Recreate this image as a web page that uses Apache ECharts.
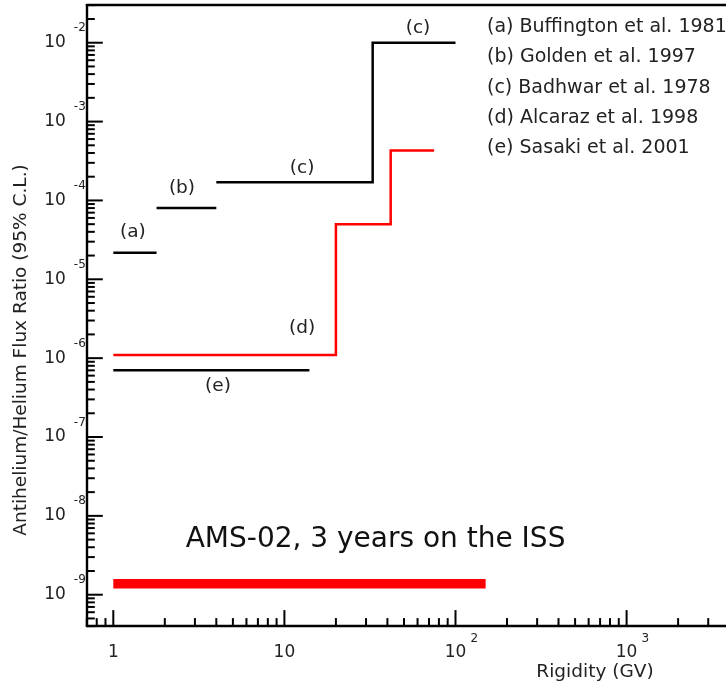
<!DOCTYPE html>
<html>
<head>
<meta charset="utf-8">
<script src="https://cdn.jsdelivr.net/npm/echarts@6/dist/echarts.min.js"></script>
<style>
  html, body { margin: 0; padding: 0; background: #fff; }
  #chart { width: 726px; height: 686px; }
</style>
</head>
<body>
<div id="chart"></div>
<script>
// Axis ranges: rigidity (GV) and antihelium/helium flux ratio
const xRange = [0.7, 10000];
const yRange = [4e-10, 3e-2];

// 95% C.L. upper limits, as [rigidity, ratio] corners of step lines
const buffington1981 = [[1, 2.17e-5], [1.79, 2.17e-5]];
const golden1997 = [[1.79, 8.0e-5], [4, 8.0e-5]];
const badhwar1978 = [[4, 1.7e-4], [32.8, 1.7e-4], [32.8, 1e-2], [100, 1e-2]];
const alcaraz1998 = [[1, 1.1e-6], [20, 1.1e-6], [20, 5e-5], [41.8, 5e-5], [41.8, 4.3e-4], [75, 4.3e-4]];
const sasaki2001 = [[1, 7.0e-7], [14, 7.0e-7]];
const ams02 = [[1, 1.38e-9], [150, 1.38e-9]];

// Letter tags next to the limits, anchored in data units
const tagText = ['(a)', '(b)', '(c)', '(c)', '(d)', '(e)'];
const tagAt = [[1.30, 3.98e-5], [2.52, 1.44e-4], [12.7, 2.58e-4], [60.4, 1.54e-2], [12.7, 2.41e-6], [4.09, 4.43e-7]];
const amsText = 'AMS-02, 3 years on the ISS';
const amsTextAt = [34.1, 4.94e-9];

// Reference list
const references = [
  '(a) Buffington et al. 1981',
  '(b) Golden et al. 1997',
  '(c) Badhwar et al. 1978',
  '(d) Alcaraz et al. 1998',
  '(e) Sasaki et al. 2001'
];

// Decade tick labels
const xMajor = [1, 10, 100, 1000];
const xMajorBase = ['1', '10', '10', '10'];
const xMajorExp = ['', '', '2', '3'];
const yMajorExp = [-2, -3, -4, -5, -6, -7, -8, -9];

const FONT = 'DejaVu Sans';

// Log ticks: 2..9 times each power of ten inside a range
function minorTicks(lo, hi, eFrom, eTo) {
  const out = [];
  for (let e = eFrom; e <= eTo; e++) {
    for (let m = 2; m <= 9; m++) {
      const v = m * Math.pow(10, e);
      if (v >= lo * 0.999 && v <= hi * 1.001) out.push(v);
    }
  }
  return out;
}
const xMinor = minorTicks(xRange[0], xRange[1], -1, 3);
const yMajor = yMajorExp.map(e => Math.pow(10, e));
const yMinor = minorTicks(yRange[0], yRange[1], -10, -2);

function tickSeries(data, horizontal, len) {
  return {
    type: 'custom', coordinateSystem: 'cartesian2d', silent: true, clip: false, z: 5,
    data: data,
    renderItem: function (params, api) {
      const p = api.coord([api.value(0), api.value(1)]);
      const shape = horizontal
        ? { x1: p[0], y1: p[1], x2: p[0] + len, y2: p[1] }
        : { x1: p[0], y1: p[1], x2: p[0], y2: p[1] - len };
      return { type: 'line', shape: shape, style: { stroke: '#000', lineWidth: 2 } };
    }
  };
}

function stepLine(data, color, width) {
  return {
    type: 'line', data: data, symbol: 'none', silent: true, z: 3,
    lineStyle: { color: color, width: width, cap: 'butt', join: 'miter' }
  };
}

const chart = echarts.init(document.getElementById('chart'), null, { renderer: 'canvas' });

chart.setOption({
  animation: false,
  backgroundColor: '#fff',
  // the plot runs past the right edge of the canvas
  grid: { left: 86.8, top: 5.1, width: 710.9, height: 621, containLabel: false, outerBoundsMode: 'none' },
  xAxis: [{
    type: 'log', logBase: 10, min: xRange[0], max: xRange[1],
    axisLine: { show: true, lineStyle: { color: '#000', width: 2.4 } },
    axisTick: { show: false }, axisLabel: { show: false }, splitLine: { show: false }, minorTick: { show: false }
  }, {
    type: 'log', logBase: 10, min: xRange[0], max: xRange[1], position: 'top',
    axisLine: { show: true, onZero: false, lineStyle: { color: '#000', width: 2.4 } },
    axisTick: { show: false }, axisLabel: { show: false }, splitLine: { show: false }
  }],
  yAxis: {
    type: 'log', logBase: 10, min: yRange[0], max: yRange[1],
    axisLine: { show: true, lineStyle: { color: '#000', width: 2.4 } },
    axisTick: { show: false }, axisLabel: { show: false }, splitLine: { show: false }, minorTick: { show: false }
  },
  series: [
    stepLine(buffington1981, '#000', 2.5),
    stepLine(golden1997, '#000', 2.5),
    stepLine(badhwar1978, '#000', 2.5),
    stepLine(sasaki2001, '#000', 2.5),
    stepLine(alcaraz1998, '#ff0000', 2.5),
    stepLine(ams02, '#ff0000', 9.5),
    // axis ticks, drawn inward
    tickSeries(xMajor.map(v => [v, yRange[0]]), false, 16),
    tickSeries(xMinor.map(v => [v, yRange[0]]), false, 8),
    tickSeries(yMajor.map(v => [xRange[0], v]), true, 16),
    tickSeries(yMinor.map(v => [xRange[0], v]), true, 8),
    // x tick labels
    {
      type: 'custom', coordinateSystem: 'cartesian2d', silent: true, clip: false,
      data: xMajor.map((v, i) => [v, yRange[0], i]),
      renderItem: function (params, api) {
        const p = api.coord([api.value(0), api.value(1)]);
        const i = api.value(2);
        const kids = [{
          type: 'text', x: p[0], y: p[1] + 26,
          style: { text: xMajorBase[i], fill: '#222', fontSize: 17, fontFamily: FONT, align: 'center', verticalAlign: 'middle' }
        }];
        if (xMajorExp[i]) {
          kids.push({
            type: 'text', x: p[0] + 15, y: p[1] + 13,
            style: { text: xMajorExp[i], fill: '#222', fontSize: 12, fontFamily: FONT, align: 'left', verticalAlign: 'middle' }
          });
        }
        return { type: 'group', children: kids };
      }
    },
    // y tick labels, 10 with a raised exponent
    {
      type: 'custom', coordinateSystem: 'cartesian2d', silent: true, clip: false,
      data: yMajor.map((v, i) => [xRange[0], v, i]),
      renderItem: function (params, api) {
        const p = api.coord([api.value(0), api.value(1)]);
        const i = api.value(2);
        return {
          type: 'group', children: [{
            type: 'text', x: p[0] - 21, y: p[1],
            style: { text: '10', fill: '#222', fontSize: 17, fontFamily: FONT, align: 'right', verticalAlign: 'middle' }
          }, {
            type: 'text', x: p[0] - 1, y: p[1] - 14.5,
            style: { text: String(yMajorExp[i]), fill: '#222', fontSize: 12, fontFamily: FONT, align: 'right', verticalAlign: 'middle' }
          }]
        };
      }
    },
    // letter tags and the AMS-02 caption
    {
      type: 'custom', coordinateSystem: 'cartesian2d', silent: true, clip: false,
      data: tagAt.map((c, i) => [c[0], c[1], i]).concat([[amsTextAt[0], amsTextAt[1], -1]]),
      renderItem: function (params, api) {
        const p = api.coord([api.value(0), api.value(1)]);
        const i = api.value(2);
        const isAms = i < 0;
        return {
          type: 'text', x: p[0], y: p[1],
          style: {
            text: isAms ? amsText : tagText[i], fill: isAms ? '#111' : '#222',
            fontSize: isAms ? 28 : 18.5, fontFamily: FONT, align: 'center', verticalAlign: 'middle'
          }
        };
      }
    }
  ],
  graphic: [
    {
      type: 'group', x: 487, y: 0, children: references.map((t, i) => ({
        type: 'text', x: 0, y: 27 + i * 30.3,
        style: { text: t, fill: '#222', fontSize: 19, fontFamily: FONT, align: 'left', verticalAlign: 'middle' }
      }))
    },
    {
      type: 'text', x: 595, y: 672,
      style: { text: 'Rigidity (GV)', fill: '#222', fontSize: 18.5, fontFamily: FONT, align: 'center', verticalAlign: 'middle' }
    },
    {
      type: 'text', x: 21, y: 350, rotation: Math.PI / 2,
      style: { text: 'Antihelium/Helium Flux Ratio (95% C.L.)', fill: '#222', fontSize: 18.5, fontFamily: FONT, align: 'center', verticalAlign: 'middle' }
    }
  ]
});
</script>
</body>
</html>
